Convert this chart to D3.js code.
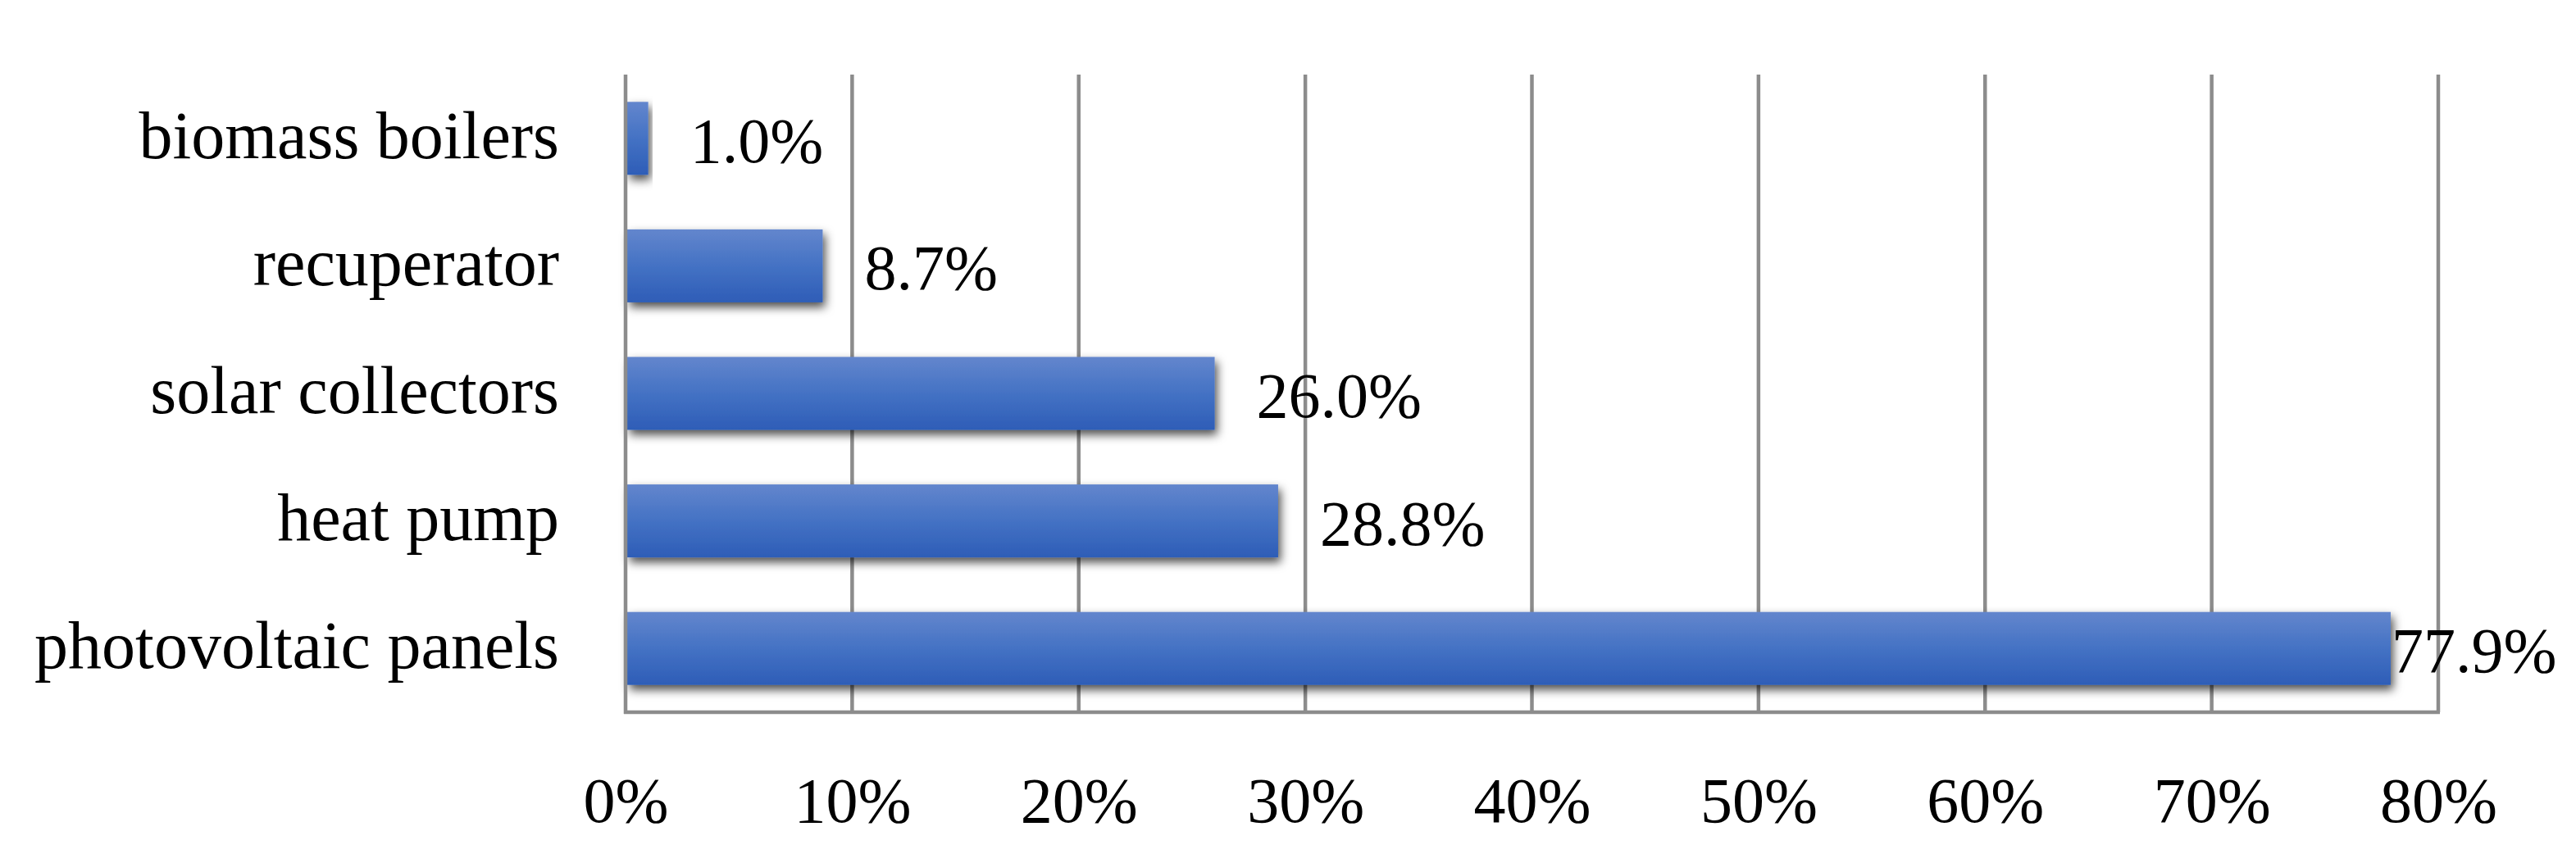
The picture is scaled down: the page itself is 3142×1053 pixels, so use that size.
<!DOCTYPE html>
<html><head><meta charset="utf-8">
<script src="https://cdn.jsdelivr.net/npm/d3@7"></script>
<style>html,body{margin:0;padding:0;background:#fff;}svg{display:block;}</style>
</head><body>
<svg id="chart" width="3142" height="1053"></svg>
<script>
const categories = ["biomass boilers","recuperator","solar collectors","heat pump","photovoltaic panels"];
const values = [1.0, 8.7, 26.0, 28.8, 77.9];
const valueLabels = ["1.0%","8.7%","26.0%","28.8%","77.9%"];
const ticks = [0,10,20,30,40,50,60,70,80];
const tickLabels = ["0%","10%","20%","30%","40%","50%","60%","70%","80%"];

const svg = d3.select("#chart");
const m = {left:763, right:2974, top:91, bottom:869};
const x = d3.scaleLinear().domain([0,80]).range([m.left, m.right]);
const y = d3.scaleBand().domain(categories).range([m.top, m.bottom]).paddingInner(0.428).paddingOuter(0.214);
const font = "'Liberation Serif', 'Times New Roman', serif";
const grid = "#8c8c8c";

const defs = svg.append("defs");
const g = defs.append("linearGradient").attr("id","barGrad").attr("x1",0).attr("y1",0).attr("x2",0).attr("y2",1);
g.append("stop").attr("offset","0%").attr("stop-color","#6386cd");
g.append("stop").attr("offset","50%").attr("stop-color","#4472c4");
g.append("stop").attr("offset","100%").attr("stop-color","#2e5db7");
const f = defs.append("filter").attr("id","shadow").attr("x","-10%").attr("y","-50%").attr("width","130%").attr("height","200%");
f.append("feDropShadow").attr("dx",3).attr("dy",6).attr("stdDeviation",6).attr("flood-color","#000").attr("flood-opacity",0.7);

// gridlines
svg.append("g").selectAll("line").data(ticks.slice(1)).join("line")
  .attr("x1",d=>x(d)).attr("x2",d=>x(d)).attr("y1",m.top).attr("y2",m.bottom)
  .attr("stroke",grid).attr("stroke-width",4.5);

// bars
svg.append("g").selectAll("rect").data(categories).join("rect")
  .attr("x",x(0)+2).attr("y",d=>y(d))
  .attr("width",(d,i)=>x(values[i])-x(0)-2).attr("height",y.bandwidth())
  .attr("fill","url(#barGrad)").attr("filter","url(#shadow)");

// axes lines
svg.append("line").attr("x1",m.left).attr("x2",m.left).attr("y1",m.top).attr("y2",m.bottom+2)
  .attr("stroke",grid).attr("stroke-width",4.5);
svg.append("line").attr("x1",m.left-2).attr("x2",m.right+2).attr("y1",m.bottom).attr("y2",m.bottom)
  .attr("stroke",grid).attr("stroke-width",4.5);

// x tick labels via axis
const xAxis = d3.axisBottom(x).tickValues(ticks).tickFormat((d,i)=>tickLabels[i]).tickSize(0).tickPadding(0);
const ax = svg.append("g").attr("transform",`translate(0,${m.bottom})`).call(xAxis);
ax.select(".domain").remove();
ax.selectAll("text").attr("font-family",font).attr("font-size",78).attr("fill","#000")
  .attr("dy",null).attr("y",134);

// category labels via axis
const yAxis = d3.axisLeft(y).tickSize(0).tickPadding(0);
const ay = svg.append("g").attr("transform",`translate(682,0)`).call(yAxis);
ay.select(".domain").remove();
ay.selectAll("text").attr("font-family",font).attr("font-size",82).attr("fill","#000")
  .attr("dy","0.29em").attr("x",0).attr("text-anchor","end");

// value labels
svg.append("g").selectAll("text").data(categories).join("text")
  .attr("x",(d,i)=> i===4 ? x(values[i])+1 : x(values[i])+51)
  .attr("y",d=>y(d)+y.bandwidth()/2+29)
  .attr("font-family",font).attr("font-size",78).attr("fill","#000")
  .text((d,i)=>valueLabels[i]);
</script>
</body></html>
